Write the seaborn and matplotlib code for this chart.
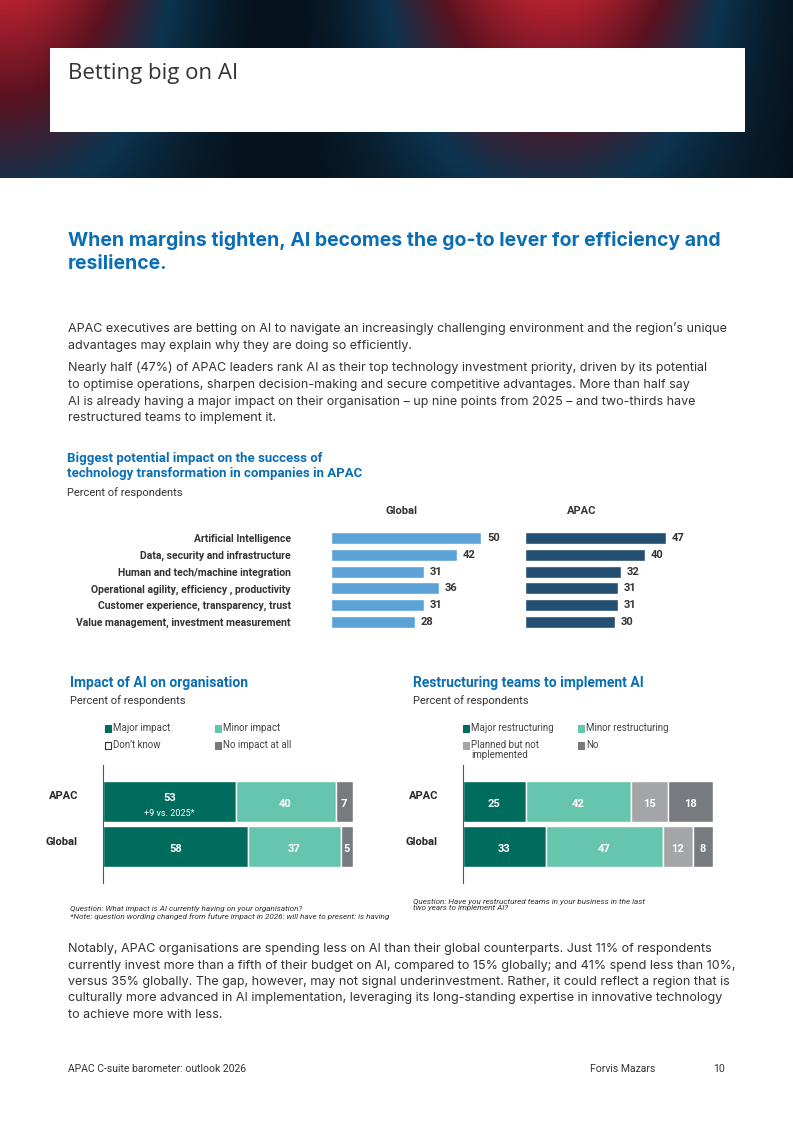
import numpy as np
import pandas as pd
import matplotlib.pyplot as plt
import seaborn as sns


sns.set_style("white")
plt.rcParams['font.family'] = ['Roboto', 'DejaVu Sans']

#data
drivers = ["Artificial Intelligence", "Data, security and infrastructure", "Human and tech/machine integration",
           "Operational agility, efficiency , productivity", "Customer experience, transparency, trust",
           "Value management, investment measurement"]
global_vals = [50, 42, 31, 36, 31, 28]
apac_vals = [47, 40, 32, 31, 31, 30]

regions = ["APAC", "Global"]
impact_cats = ["Major impact", "Minor impact", "No impact at all"]
impact_vals = {"APAC": [53, 40, 7], "Global": [58, 37, 5]}
restr_cats = ["Major restructuring", "Minor restructuring", "Planned but not\nimplemented", "No"]
restr_vals = {"APAC": [25, 42, 15, 18], "Global": [33, 47, 12, 8]}

BLUE = "#0a6eb4"
W, H = 793, 1121


def fx(px):
    return px / W


def fy(py):
    return 1 - py / H


fig = plt.figure(figsize=(7.93, 11.21), dpi=100)

#header picture (dark circuit board look)
hdr = fig.add_axes([0, fy(178), 1, 178 / H])
gx = np.linspace(0, 1, 200)
gy = np.linspace(0, 1, 60)
band = np.outer(1 - gy * 0.6, 0.5 + 0.5 * np.cos(gx * 9))
hdr.imshow(band, cmap=sns.blend_palette(["#06121d", "#0d3550", "#5a1220", "#b3212f"], as_cmap=True),
           aspect="auto", extent=[0, 1, 0, 1])
hdr.axis("off")
box = fig.add_axes([fx(50), fy(132), fx(695), 84 / H])
box.set_facecolor("white")
box.set_xticks([])
box.set_yticks([])
sns.despine(ax=box, left=True, bottom=True)
fig.text(fx(68), fy(73), "Betting big on AI", fontsize=16, color="#333333", va="center", family="Open Sans")

#headline and body
fig.text(fx(68), fy(252), "When margins tighten, AI becomes the go-to lever for efficiency and\nresilience.",
         fontsize=14, fontweight="bold", color=BLUE, va="center", linespacing=1.35, family="Inter")
body1 = ("APAC executives are betting on AI to navigate an increasingly challenging environment and the region’s unique\n"
         "advantages may explain why they are doing so efficiently.")
body2 = ("Nearly half (47%) of APAC leaders rank AI as their top technology investment priority, driven by its potential\n"
         "to optimise operations, sharpen decision-making and secure competitive advantages. More than half say\n"
         "AI is already having a major impact on their organisation – up nine points from 2025 – and two-thirds have\n"
         "restructured teams to implement it.")
body3 = ("Notably, APAC organisations are spending less on AI than their global counterparts. Just 11% of respondents\n"
         "currently invest more than a fifth of their budget on AI, compared to 15% globally; and 41% spend less than 10%,\n"
         "versus 35% globally. The gap, however, may not signal underinvestment. Rather, it could reflect a region that is\n"
         "culturally more advanced in AI implementation, leveraging its long-standing expertise in innovative technology\n"
         "to achieve more with less.")
fig.text(fx(68), fy(322), body1, fontsize=9, color="#333333", va="top", linespacing=1.5, family="Inter")
fig.text(fx(68), fy(362), body2, fontsize=9, color="#333333", va="top", linespacing=1.5, family="Inter")
fig.text(fx(68), fy(943), body3, fontsize=9, color="#333333", va="top", linespacing=1.5, family="Inter")

#chart 1: biggest potential impact
fig.text(fx(67), fy(466), "Biggest potential impact on the success of\ntechnology transformation in companies in APAC",
         fontsize=9.5, fontweight="bold", color=BLUE, va="center", linespacing=1.2)
fig.text(fx(67), fy(493), "Percent of respondents", fontsize=8, color="#333333", va="center")
df1 = pd.DataFrame({"driver": drivers, "Global": global_vals, "APAC": apac_vals})
for col, x0, colour in [("Global", 331, "#5ba3d6"), ("APAC", 525, "#234f72")]:
    ax = fig.add_axes([fx(x0), fy(630), fx(60 * 3.0), 100 / H])
    sns.barplot(data=df1, x=col, y="driver", color=colour, width=0.72, saturation=1, ax=ax)
    ax.set_xlim(0, 60)
    ax.set_xlabel("")
    ax.set_ylabel("")
    ax.set_xticks([])
    for i, v in enumerate(df1[col]):
        ax.text(v + 2, i, str(v), va="center", fontsize=8, fontweight="bold", color="#333333")
    if col == "Global":
        ax.tick_params(axis="y", length=0, labelsize=7.5, pad=29)
        for lab in ax.get_yticklabels():
            lab.set_fontweight("bold")
            lab.set_color("#333333")
    else:
        ax.set_yticks([])
    sns.despine(ax=ax, left=True, bottom=True)
    fig.text(fx(x0 + 71 if col == "Global" else x0 + 57), fy(511), col, fontsize=8, fontweight="bold",
             color="#333333", ha="center", va="center")

#stacked charts
teal = ["#006c5e", "#66c6ad", "#a3a5a9", "#777a7f"]


def stacked(x0, tx, title, cats, vals, colours, question, qy):
    fig.text(fx(tx), fy(683), title, fontsize=10, fontweight="bold", color=BLUE, va="center")
    fig.text(fx(tx), fy(701), "Percent of respondents", fontsize=8, color="#333333", va="center")
    ax = fig.add_axes([fx(x0), fy(883), fx(250), 118 / H])
    left = np.zeros(2)
    for j, cat in enumerate(cats):
        widths = np.array([vals[r][j] for r in regions])
        sns.barplot(x=widths, y=regions, left=left, color=colours[j], width=0.9, saturation=1, ax=ax)
        for i, w in enumerate(widths):
            ax.text(left[i] + w / 2, i + 0.05, str(w), ha="center", va="center", color="white",
                    fontsize=8, fontweight="bold")
        left = left + widths
    ax.set_xlim(0, 100)
    ax.set_ylim(1.8, -0.8)
    ax.set_xticks([])
    ax.set_ylabel("")
    ax.tick_params(axis="y", length=0, labelsize=8, pad=18)
    for lab in ax.get_yticklabels():
        lab.set_fontweight("bold")
        lab.set_va("bottom")
    ax.spines["left"].set_color("#555555")
    sns.despine(ax=ax, bottom=True)
    fig.text(fx(tx), fy(qy), question, fontsize=5.9, style="italic", color="#333333", va="center",
             linespacing=1.1)
    return ax


ax2 = stacked(103, 70, "Impact of AI on organisation", impact_cats, impact_vals, teal[:2] + teal[3:],
              "Question: What impact is AI currently having on your organisation?\n"
              "*Note: question wording changed from future impact in 2026: will have to present: is having", 913)
ax2.texts[0].set_y(-0.07)
ax2.text(53 / 2, 0.26, "+9 vs. 2025*", ha="center", va="center", color="white", fontsize=6.5)
leg1 = [("Major impact", teal[0], 105, 728), ("Minor impact", teal[1], 215, 728),
        ("Don’t know", "white", 105, 745), ("No impact at all", teal[3], 215, 745)]
ax3 = stacked(463, 413, "Restructuring teams to implement AI", restr_cats, restr_vals, teal,
              "Question: Have you restructured teams in your business in the last\ntwo years to implement AI?", 905)
leg2 = [("Major restructuring", teal[0], 463, 728), ("Minor restructuring", teal[1], 578, 728),
        ("Planned but not\nimplemented", teal[2], 463, 745), ("No", teal[3], 578, 745)]
for label, colour, x, y in leg1 + leg2:
    fig.patches.append(plt.Rectangle((fx(x), fy(y + 4)), fx(6), 7 / H, transform=fig.transFigure,
                                     facecolor=colour, edgecolor="#333333" if colour == "white" else colour, lw=0.8))
    fig.text(fx(x + 8), fy(y), label, fontsize=7, color="#444444", va="top" if "\n" in label else "center",
             linespacing=1.0)
for t in fig.texts[-4:]:
    if "\n" in t.get_text():
        t.set_y(fy(740))

#footer
fig.text(fx(68), fy(1069), "APAC C-suite barometer: outlook 2026", fontsize=7.5, color="#333333", va="center")
fig.text(fx(590), fy(1069), "Forvis Mazars", fontsize=7.5, color="#333333", va="center")
fig.text(fx(725), fy(1069), "10", fontsize=7.5, color="#333333", va="center", ha="right")

plt.savefig("out.png", dpi=100)
